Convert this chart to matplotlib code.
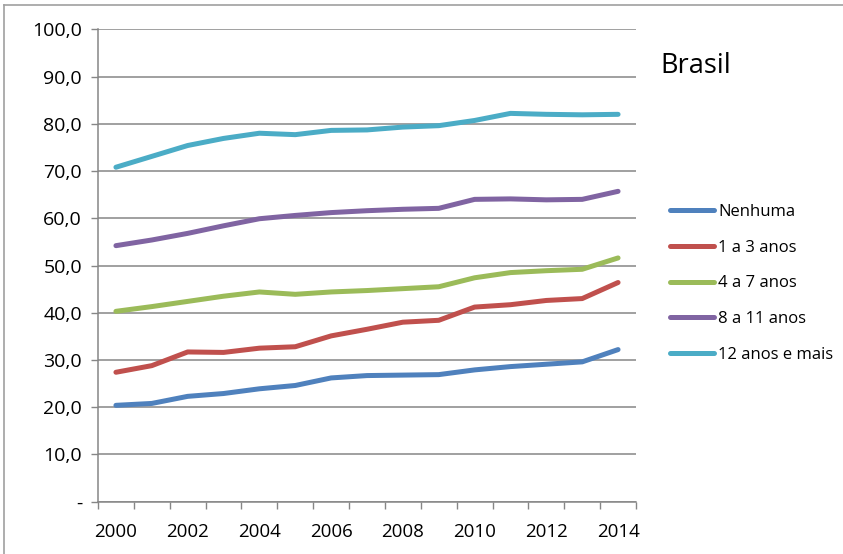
import matplotlib
matplotlib.use("Agg")
import matplotlib.pyplot as plt
from matplotlib.lines import Line2D
import numpy as np

plt.rcParams['font.family'] = ['Open Sans', 'DejaVu Sans']

years = [str(y) for y in range(2000, 2015)]

nenhuma = [20.4, 20.8, 22.3, 22.9, 23.9, 24.6, 26.2, 26.7, 26.8, 26.9,
           27.9, 28.6, 29.1, 29.6, 32.2]
anos_1_3 = [27.4, 28.8, 31.7, 31.6, 32.5, 32.8, 35.1, 36.5, 38.0, 38.4,
            41.2, 41.7, 42.6, 43.0, 46.4]
anos_4_7 = [40.3, 41.3, 42.4, 43.5, 44.4, 43.9, 44.4, 44.7, 45.1, 45.5,
            47.4, 48.5, 48.9, 49.2, 51.6]
anos_8_11 = [54.2, 55.4, 56.8, 58.4, 59.9, 60.6, 61.2, 61.6, 61.9, 62.1,
             64.0, 64.1, 63.9, 64.0, 65.7]
anos_12_mais = [70.8, 73.1, 75.4, 76.9, 78.0, 77.7, 78.6, 78.7, 79.3, 79.6,
                80.7, 82.2, 82.0, 81.9, 82.0]

series = [
    ("Nenhuma", nenhuma, "#4F81BD"),
    ("1 a 3 anos", anos_1_3, "#C0504D"),
    ("4 a 7 anos", anos_4_7, "#9BBB59"),
    ("8 a 11 anos", anos_8_11, "#8064A2"),
    ("12 anos e mais", anos_12_mais, "#4BACC6"),
]

y_ticks = [0, 10, 20, 30, 40, 50, 60, 70, 80, 90, 100]
grid_col = "#868686"

fig = plt.figure(figsize=(8.43, 5.54), dpi=100)
ax = fig.add_axes([98 / 843, 1 - 501.7 / 554, 538 / 843, 472.4 / 554])

x = np.arange(len(years))
for name, vals, col in series:
    ax.plot(x, vals, color=col, lw=3.6, label=name,
            solid_capstyle='round', solid_joinstyle='round')

ax.set_xlim(-0.5, len(years) - 0.5)
ax.set_ylim(0, 100)

# y axis
ax.set_yticks(y_ticks,
              ["-" if v == 0 else f"{v:.1f}".replace(".", ",") for v in y_ticks])
ax.yaxis.grid(True, color=grid_col, lw=1.1)
ax.set_axisbelow(True)
ax.tick_params(axis='y', direction='out', length=5, width=1, color=grid_col,
               pad=6.5, labelsize=14)

# x axis: marks between categories, labels every other year
ax.set_xticks(np.arange(-0.5, len(years), 1), [""] * (len(years) + 1))
ax.set_xticks(x[::2], years[::2], minor=True)
ax.tick_params(axis='x', which='major', direction='out', length=5, width=1,
               color=grid_col)
ax.tick_params(axis='x', which='minor', length=0, pad=15, labelsize=13.5)

for s in ['top', 'right']:
    ax.spines[s].set_visible(False)
for s in ['left', 'bottom']:
    ax.spines[s].set_color(grid_col)
    ax.spines[s].set_linewidth(1.1)

fig.text(660 / 843, 1 - 66 / 554, "Brasil", fontsize=19.5, va='center', ha='left')

fig.legend(loc='upper left', bbox_to_anchor=(670 / 843, 1 - 204 / 554),
           frameon=False, fontsize=12, handlelength=2.64, handletextpad=0.24,
           labelspacing=1.18, borderaxespad=0, borderpad=0)

# outer chart border (top and left visible)
fig.add_artist(Line2D([4 / 843, 1], [1 - 5 / 554, 1 - 5 / 554],
                      color="#A0A0A0", lw=1.2, transform=fig.transFigure))
fig.add_artist(Line2D([4 / 843, 4 / 843], [0, 1 - 5 / 554],
                      color="#A0A0A0", lw=1.2, transform=fig.transFigure))

fig.savefig("out.png", dpi=100)
